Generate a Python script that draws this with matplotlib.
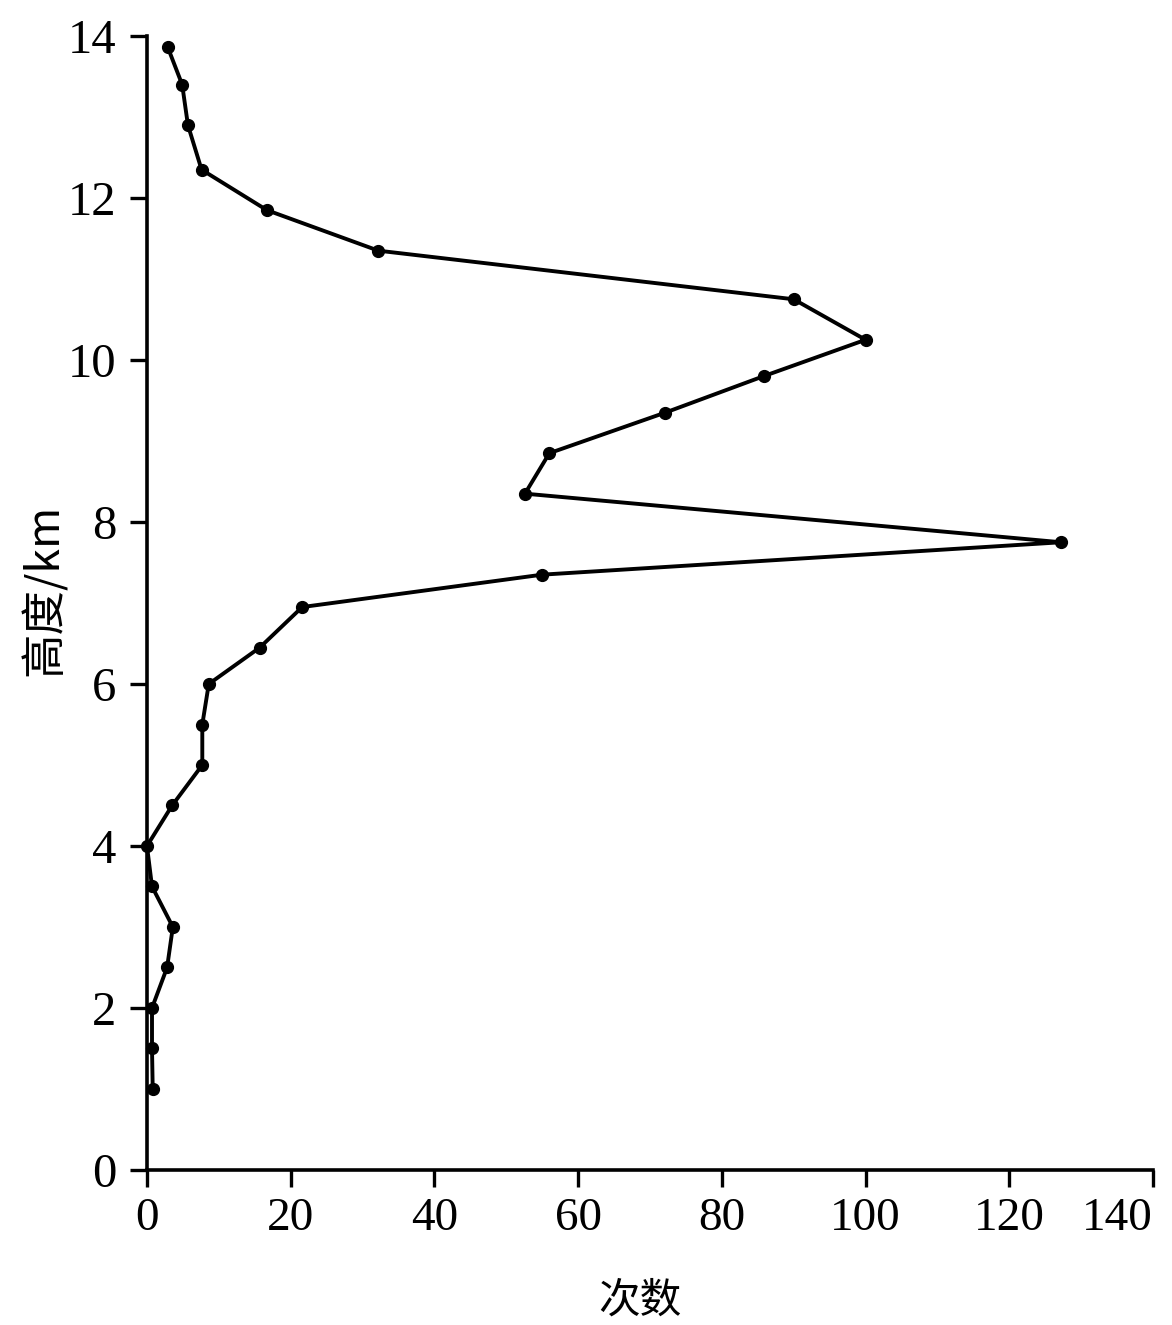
import matplotlib
matplotlib.use('Agg')
import matplotlib.pyplot as plt

# 次数 (count) at each height (km)
counts  = [0.8, 0.7, 0.7, 2.8, 3.6, 0.7, 0.0, 3.5, 7.7, 7.7, 8.6, 15.7, 21.6,
           55.0, 127.2, 52.6, 56.0, 72.1, 85.8, 100.0, 90.0, 32.2, 16.7,
           7.6, 5.7, 4.9, 2.9]
heights = [1.0, 1.5, 2.0, 2.5, 3.0, 3.5, 4.0, 4.5, 5.0, 5.5, 6.0, 6.45, 6.95,
           7.35, 7.75, 8.35, 8.85, 9.35, 9.8, 10.25, 10.75, 11.35, 11.85,
           12.35, 12.9, 13.4, 13.86]

xticks = [0, 20, 40, 60, 80, 100, 120, 140]
yticks = [0, 2, 4, 6, 8, 10, 12, 14]

serif = ['Liberation Serif', 'DejaVu Serif']
cjk = ['Noto Sans CJK SC', 'DejaVu Sans']

fig = plt.figure(figsize=(11.72, 13.25), dpi=100)
ax = fig.add_axes([0.1254, 0.117, 0.8584, 0.8558])

ax.plot(counts, heights, color='black', lw=2.8, marker='o', ms=8.5,
        clip_on=False, zorder=3)

ax.set_xlim(0, 140)
ax.set_ylim(0, 14)
ax.set_xticks(xticks)
ax.set_yticks(yticks)
ax.set_xticklabels([str(t) for t in xticks], family=serif, fontsize=34)
ax.set_yticklabels([str(t) for t in yticks], family=serif, fontsize=35)
ax.tick_params(axis='both', direction='out', length=12, width=2.4, colors='black')
ax.tick_params(axis='x', pad=8)
ax.tick_params(axis='y', pad=10)
# the last label sits at the right edge; keep it inside the picture
ax.get_xticklabels()[-1].set_horizontalalignment('right')

for s in ['top', 'right']:
    ax.spines[s].set_visible(False)
for s in ['left', 'bottom']:
    ax.spines[s].set_linewidth(2.6)

fig.text(0.038, 0.555, '高度/km', rotation=90, ha='center', va='center',
         family=cjk, fontsize=32)
fig.text(0.546, 0.018, '次数', ha='center', va='center', family=cjk, fontsize=30)

fig.savefig('out.png', dpi=100)
